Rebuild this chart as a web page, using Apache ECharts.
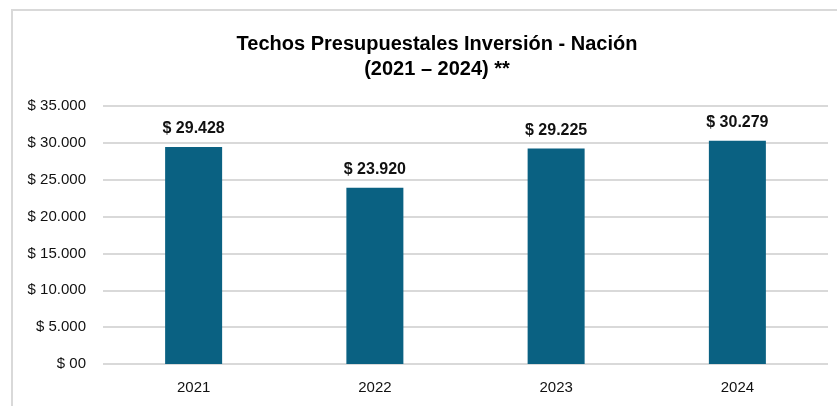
<!DOCTYPE html>
<html>
<head>
<meta charset="utf-8">
<script src="https://cdn.jsdelivr.net/npm/echarts@6/dist/echarts.min.js"></script>
<style>
html,body{margin:0;padding:0;background:#fff;}
#chart{width:837px;height:406px;}
</style>
</head>
<body>
<div id="chart"></div>
<script>
// datos del gráfico
var years = ['2021', '2022', '2023', '2024'];
var techos = [29428, 23920, 29225, 30279];
var yTickLabels = ['$ 00', '$ 5.000', '$ 10.000', '$ 15.000', '$ 20.000', '$ 25.000', '$ 30.000', '$ 35.000'];
var barLabels = ['$ 29.428', '$ 23.920', '$ 29.225', '$ 30.279'];

var FONT = '"Liberation Sans Narrow", "Arial Narrow", "Liberation Sans", sans-serif';

var myChart = echarts.init(document.getElementById('chart'));
var option = {
	animation: false,
	title: {
		text: 'Techos Presupuestales Inversión - Nación\n(2021 – 2024) **',
		left: 432,
		textAlign: 'center',
		top: 27,
		textStyle: {
			fontFamily: FONT,
			fontSize: 20,
			fontWeight: 'bold',
			color: '#000',
			lineHeight: 25
		}
	},
	graphic: [{
		type: 'rect',
		shape: {x: 12, y: 10, width: 900, height: 500},
		style: {fill: 'none', stroke: '#d9d9d9', lineWidth: 2},
		silent: true
	}],
	grid: {
		left: 103,
		right: 9,
		top: 106,
		bottom: 42
	},
	xAxis: {
		type: 'category',
		data: years,
		axisLine: {show: false},
		axisTick: {show: false},
		axisLabel: {
			fontFamily: FONT,
			fontSize: 15,
			color: '#111',
			margin: 16
		}
	},
	yAxis: {
		type: 'value',
		min: 0,
		max: 35000,
		interval: 5000,
		axisLine: {show: false},
		axisTick: {show: false},
		splitLine: {lineStyle: {color: '#d9d9d9', width: 2}},
		axisLabel: {
			fontFamily: FONT,
			fontSize: 15,
			color: '#111',
			margin: 17,
			formatter: function (v) { return yTickLabels[Math.round(v / 5000)]; }
		}
	},
	series: [{
		type: 'bar',
		data: techos,
		barWidth: 57,
		itemStyle: {color: '#0a6182'},
		label: {
			show: true,
			position: 'top',
			distance: 10,
			fontFamily: FONT,
			fontSize: 16,
			fontWeight: 'bold',
			color: '#111',
			formatter: function (p) { return barLabels[p.dataIndex]; }
		}
	}]
};
myChart.setOption(option);
</script>
</body>
</html>
